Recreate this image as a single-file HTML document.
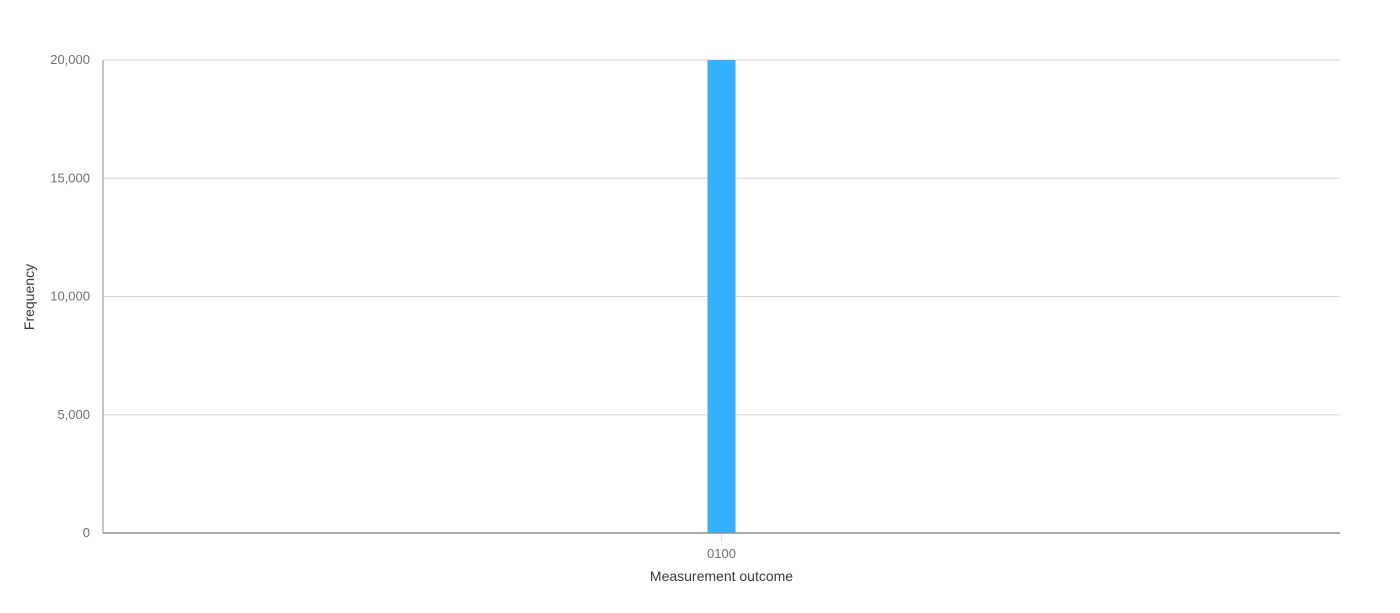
<!DOCTYPE html>
<html><head><meta charset="utf-8"><style>
body{margin:0;background:#fff;width:1400px;height:608px;overflow:hidden}
svg{font-family:"Liberation Sans",sans-serif}
</style></head><body>
<svg id="chart" width="1400" height="608"></svg>
<script>
const categories = ["0100"];
const values = [20000];
const yTicks = [0, 5000, 10000, 15000, 20000];
const yTickLabels = ["0", "5,000", "10,000", "15,000", "20,000"];

const NS = "http://www.w3.org/2000/svg";
const svg = document.getElementById("chart");
const L = 103, R = 1340, T = 60, B = 533, yMax = 20000;
const y = v => B - (v / yMax) * (B - T);
const band = (R - L) / categories.length;
const x = i => L + band * (i + 0.5);
const barW = 28;
function mk(tag, attrs, text) {
  const e = document.createElementNS(NS, tag);
  for (const k in attrs) e.setAttribute(k, attrs[k]);
  if (text !== undefined) e.textContent = text;
  svg.appendChild(e);
  return e;
}
yTicks.forEach((t, i) => {
  if (t !== 0) {
    const g = mk("line", {x1: L, x2: R, y1: y(t), y2: y(t), stroke: "#d6d6d6", "stroke-width": 1});
    
    
  }
  const lb = mk("text", {x: 90, y: y(t) + 4, "text-anchor": "end", "font-size": 13, fill: "#6f6f6f"}, yTickLabels[i]);
  
  
});
const ya = mk("line", {x1: L, x2: L, y1: T, y2: B, stroke: "#8d8d8d", "stroke-width": 1});


categories.forEach((c, i) => {
  const tk = mk("line", {x1: x(i), x2: x(i), y1: B, y2: B + 8, stroke: "#d6d6d6"});
  
  
  const b = mk("rect", {x: x(i) - barW / 2, y: y(values[i]), width: barW, height: B - y(values[i]), fill: "#33b1ff"});
  
  
  const lb = mk("text", {x: x(i), y: B + 25, "text-anchor": "middle", "font-size": 13, fill: "#6f6f6f"}, c);
  
  
});
const xa = mk("line", {x1: L, x2: R, y1: B, y2: B, stroke: "#8d8d8d", "stroke-width": 1.5});


const xt = mk("text", {x: (L + R) / 2, y: 581, "text-anchor": "middle", "font-size": 14, fill: "#393939"}, "Measurement outcome");


const yt = mk("text", {x: 34, y: 297, "text-anchor": "middle", "font-size": 14, fill: "#393939", transform: "rotate(-90 34 297)"}, "Frequency");


</script>
</body></html>
